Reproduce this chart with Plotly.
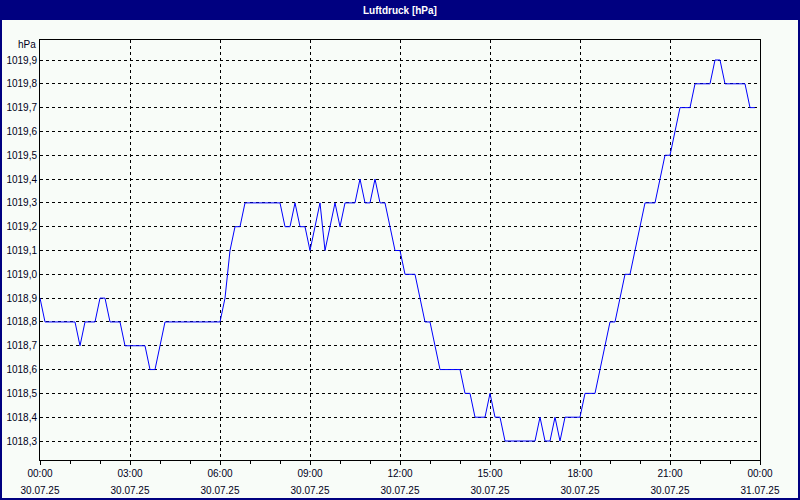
import plotly.graph_objects as go
import pandas as pd

# Luftdruck, 10-minute values, 30.07.25 00:00 ... 23:50
pressure = [
    1018.9, 1018.8, 1018.8, 1018.8, 1018.8, 1018.8, 1018.8, 1018.8, 1018.7, 1018.8,
    1018.8, 1018.8, 1018.9, 1018.9, 1018.8, 1018.8, 1018.8, 1018.7, 1018.7, 1018.7,
    1018.7, 1018.7, 1018.6, 1018.6, 1018.7, 1018.8, 1018.8, 1018.8, 1018.8, 1018.8,
    1018.8, 1018.8, 1018.8, 1018.8, 1018.8, 1018.8, 1018.8, 1018.9, 1019.1, 1019.2,
    1019.2, 1019.3, 1019.3, 1019.3, 1019.3, 1019.3, 1019.3, 1019.3, 1019.3, 1019.2,
    1019.2, 1019.3, 1019.2, 1019.2, 1019.1, 1019.2, 1019.3, 1019.1, 1019.2, 1019.3,
    1019.2, 1019.3, 1019.3, 1019.3, 1019.4, 1019.3, 1019.3, 1019.4, 1019.3, 1019.3,
    1019.2, 1019.1, 1019.1, 1019.0, 1019.0, 1019.0, 1018.9, 1018.8, 1018.8, 1018.7,
    1018.6, 1018.6, 1018.6, 1018.6, 1018.6, 1018.5, 1018.5, 1018.4, 1018.4, 1018.4,
    1018.5, 1018.4, 1018.4, 1018.3, 1018.3, 1018.3, 1018.3, 1018.3, 1018.3, 1018.3,
    1018.4, 1018.3, 1018.3, 1018.4, 1018.3, 1018.4, 1018.4, 1018.4, 1018.4, 1018.5,
    1018.5, 1018.5, 1018.6, 1018.7, 1018.8, 1018.8, 1018.9, 1019.0, 1019.0, 1019.1,
    1019.2, 1019.3, 1019.3, 1019.3, 1019.4, 1019.5, 1019.5, 1019.6, 1019.7, 1019.7,
    1019.7, 1019.8, 1019.8, 1019.8, 1019.8, 1019.9, 1019.9, 1019.8, 1019.8, 1019.8,
    1019.8, 1019.8, 1019.7, 1019.7,
]
start_time = "2025-07-30 00:00"
end_time = "2025-07-31 00:00"
times = pd.date_range(start_time, periods=len(pressure), freq="10min")

tick_times = list(pd.date_range(start_time, end_time, freq="3h"))
tick_hours = ["00:00", "03:00", "06:00", "09:00", "12:00", "15:00", "18:00", "21:00", "00:00"]
tick_dates = ["30.07.25"] * 8 + ["31.07.25"]

y_ticks = [1018.3, 1018.4, 1018.5, 1018.6, 1018.7, 1018.8, 1018.9, 1019.0,
           1019.1, 1019.2, 1019.3, 1019.4, 1019.5, 1019.6, 1019.7, 1019.8, 1019.9]
y_labels = ["1018,3", "1018,4", "1018,5", "1018,6", "1018,7", "1018,8", "1018,9", "1019,0",
            "1019,1", "1019,2", "1019,3", "1019,4", "1019,5", "1019,6", "1019,7", "1019,8", "1019,9"]
y_range = [1018.2202, 1019.984]

title_text = "Luftdruck [hPa]"
unit_text = "hPa"

NAVY = "#000080"
BG = "#F8FCF8"
TXT = "#000018"
FONT = "Liberation Sans, Arial, sans-serif"

fig = go.Figure()
fig.add_trace(go.Scatter(x=times, y=pressure, mode="lines",
                         line=dict(color="#0000FF", width=1), hoverinfo="skip"))
fig.add_trace(go.Scatter(x=[times[0]], y=[pressure[0]], xaxis="x2", mode="markers",
                         marker=dict(opacity=0), hoverinfo="skip"))

W, H = 800, 500
L, R, T, B = 40, 40, 40, 40
pw, ph = W - L - R, H - T - B


def px(x):
    return (x - L) / pw


def py(y):
    return (H - B - y) / ph


grid = dict(showgrid=True, gridcolor="black", gridwidth=1, griddash="3px,3px")

fig.update_layout(
    width=W, height=H,
    margin=dict(l=L, r=R, t=T, b=B, autoexpand=False),
    paper_bgcolor=BG, plot_bgcolor=BG,
    font=dict(family=FONT, size=10, color=TXT),
    showlegend=False,
    hovermode=False,
    xaxis=dict(type="date", range=[start_time, end_time], automargin=False,
               tickmode="array", tickvals=tick_times, ticktext=tick_hours,
               ticks="outside", ticklen=4, tickcolor="black", tickwidth=1,
               showline=True, linecolor="black", linewidth=1, mirror=True,
               zeroline=False,
               minor=dict(tickmode="linear", tick0=start_time, dtick=3600000,
                          ticks="outside", ticklen=3, tickcolor="black", showgrid=False),
               **grid),
    xaxis2=dict(type="date", overlaying="x", matches="x", side="bottom", anchor="y",
                automargin=False,
                tickmode="array", tickvals=tick_times, ticktext=tick_dates,
                ticks="", showgrid=False, showline=False, zeroline=False,
                ticklabelstandoff=23),
    yaxis=dict(range=y_range, tickmode="array", tickvals=y_ticks, ticktext=y_labels,
               automargin=False,
               ticks="", showline=True, linecolor="black", linewidth=1, mirror=True,
               zeroline=False, **grid),
    shapes=[
        dict(type="rect", xref="paper", yref="paper",
             x0=px(0), x1=px(W), y0=py(20), y1=py(0),
             fillcolor=NAVY, line=dict(width=0), layer="above"),
        dict(type="rect", xref="paper", yref="paper",
             x0=px(1), x1=px(W - 1), y0=py(H - 1), y1=py(1),
             fillcolor="rgba(0,0,0,0)", line=dict(color=NAVY, width=2), layer="above"),
    ],
    annotations=[
        dict(text="<b>" + title_text + "</b>", xref="paper", yref="paper",
             x=0.5, y=py(10), xanchor="center", yanchor="middle", showarrow=False,
             font=dict(color="white", size=10, family=FONT)),
        dict(text=unit_text, xref="paper", yref="paper",
             x=px(38), y=py(45), xanchor="right", yanchor="middle", showarrow=False,
             font=dict(color=TXT, size=10, family=FONT)),
    ],
)

fig.write_html("out.html", config={"displayModeBar": False, "staticPlot": True},
               post_script="document.body.style.margin='0';document.body.style.overflow='hidden';")
